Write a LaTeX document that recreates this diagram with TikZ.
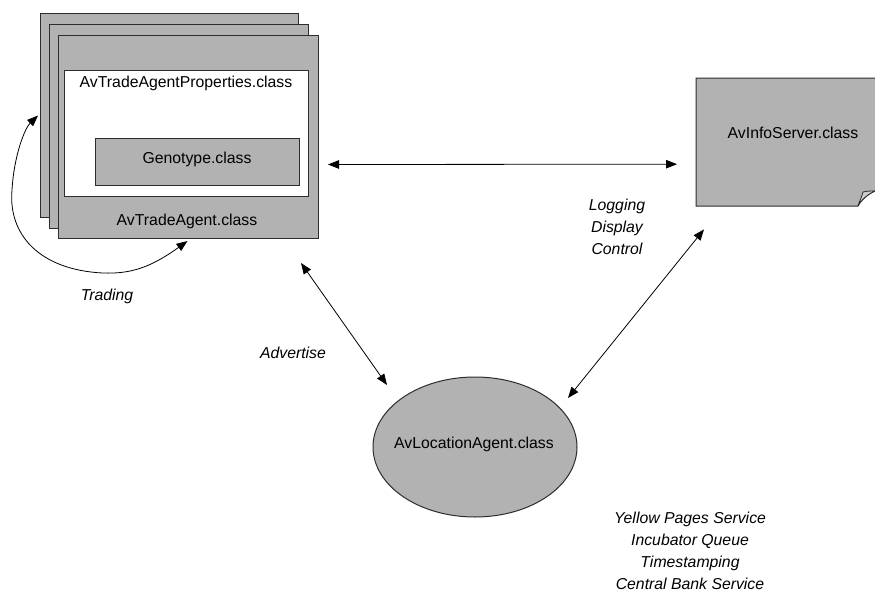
\documentclass[tikz,border=0pt]{standalone}
\usepackage{fontspec}
\setmainfont{Liberation Sans}
\usetikzlibrary{arrows.meta,calc,shapes.geometric}

\definecolor{boxgray}{RGB}{178,178,178}
\definecolor{flapgray}{RGB}{205,205,205}
\definecolor{edgegray}{RGB}{45,45,45}

\tikzset{
  txt/.style={font=\fontsize{15.8}{22}\selectfont, inner sep=0pt,
              text height=11.3pt, text depth=0pt},
  itxt/.style={font=\fontsize{15.8}{22}\selectfont\itshape, inner sep=0pt, align=center},
  card/.style={draw=edgegray, line width=1pt, fill=boxgray, inner sep=0pt,
               anchor=north west},
  panel/.style={draw=edgegray, line width=0.8pt, fill=white, inner sep=0pt,
                anchor=north west},
  dbl/.style={line width=0.8pt,
              {Triangle[length=11pt,width=8.5pt]}-{Triangle[length=11pt,width=8.5pt]}},
}

\begin{document}
\begin{tikzpicture}[x=1pt,y=-1pt]
\useasboundingbox[fill=white] (0,0) rectangle (875,594);

% stack of trade agents
\node[card, minimum width=258pt, minimum height=204pt] (back1) at (40,13) {};
\node[card, minimum width=259pt, minimum height=204pt] (back2) at (49,24) {};
\node[card, minimum width=260pt, minimum height=203pt] (front) at (58,35) {};
\node[panel, minimum width=244pt, minimum height=126pt] (props) at (64,70) {};
\node[card, line width=0.9pt, minimum width=204pt, minimum height=47pt] (geno) at (95,138) {};

\node[txt] (propslbl) at (186,82) {AvTradeAgentProperties.class};
\node[txt] (genolbl) at (197,157.5) {Genotype.class};
\node[txt] (agentlbl) at (187,219.5) {AvTradeAgent.class};

% info server page with a curled corner
\node[inner sep=0pt, minimum width=180pt, minimum height=128pt, anchor=north west]
  (info) at (696,78) {};
\draw[draw=edgegray, line width=1pt, fill=boxgray]
  (696,78) -- (878,78) -- (878,191) -- (875,191)
  .. controls (868,194) and (861,200) .. (858,206) -- (696,206) -- cycle;
\draw[draw=edgegray, line width=0.8pt, fill=flapgray]
  (858,206) .. controls (860,200) and (862,196) .. (863,192)
  .. controls (867,191) and (871,191) .. (875,191)
  .. controls (868,194) and (861,200) .. (858,206) -- cycle;
\node[txt] (infolbl) at (793,132.5) {AvInfoServer.class};

% location agent
\node[ellipse, draw=edgegray, line width=1pt, fill=boxgray, inner sep=0pt,
      minimum width=204pt, minimum height=140pt] (loc) at (475,447) {};
\node[txt] (loclbl) at (474,442.5) {AvLocationAgent.class};

% connectors
\draw[dbl] ($(front.east)+(9,27.5)$) -- ($(info.west)+(-19,22)$);
\draw[dbl] ($(front.south east)+(-18,24)$) -- ($(loc.center)+(-88,-62)$);
\draw[dbl] ($(info.south west)+(8,23)$) -- ($(loc.center)+(93,-49)$);
\draw[dbl] ($(front.south)+(-1,2)$)
  .. controls (150,268) and (130,274) .. (103,273)
  .. controls (40,270) and (8,235) .. (12,190)
  .. controls (14,155) and (25,128) .. ($(back1.west)+(-2,0)$);

% labels
\node[txt, font=\fontsize{15.8}{22}\selectfont\itshape] (trading) at (107,294.5) {Trading};
\node[txt, font=\fontsize{15.8}{22}\selectfont\itshape] (advert) at (293,352.5) {Advertise};
\node[itxt, anchor=north] (logging) at (617,199) {Logging\\Display\\Control};
\node[itxt, anchor=north] (services) at (690,512) {Yellow Pages Service\\Incubator Queue\\Timestamping\\Central Bank Service};
\end{tikzpicture}
\end{document}
